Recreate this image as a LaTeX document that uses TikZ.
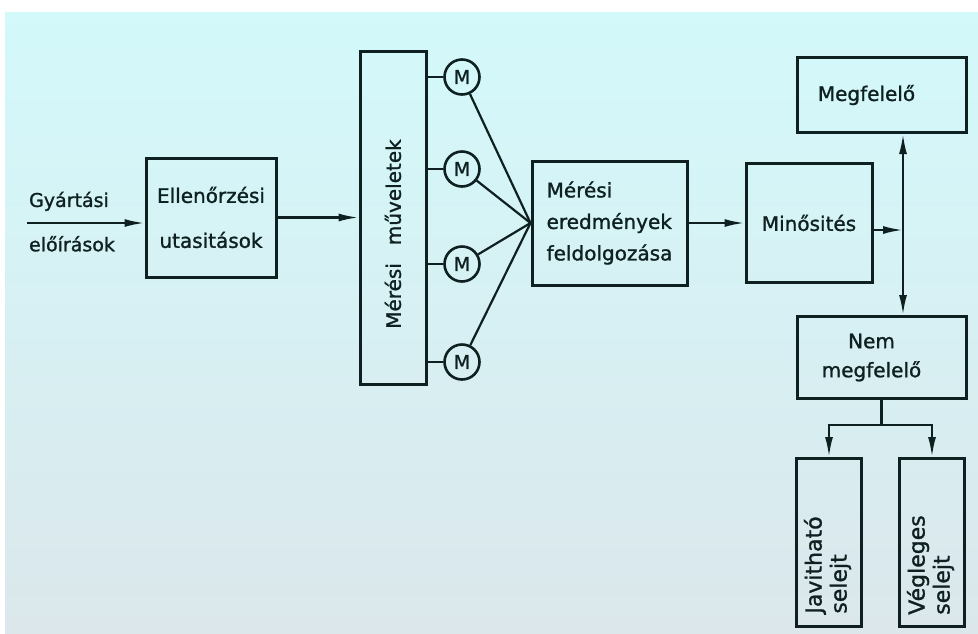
\documentclass[tikz,border=0pt]{standalone}
\usepackage{fontspec}
\setmainfont{DejaVu Sans}[FakeBold=1.2]
\usepackage{tikz}
\usetikzlibrary{arrows.meta, positioning}
\definecolor{Ink}{HTML}{0E2020}
\definecolor{PaperTop}{HTML}{D3F9FB}
\definecolor{PaperBot}{HTML}{DBE7EB}

\begin{document}
\begin{tikzpicture}[
    x=1pt, y=-1pt,
    box/.style={rectangle, draw=Ink, line width=3pt, inner sep=0pt, align=center, text=Ink, font=\fontsize{20}{30}\selectfont},
    meter/.style={circle, draw=Ink, line width=2.6pt, minimum size=35pt, inner sep=0pt, text=Ink, font=\fontsize{19}{19}\selectfont},
    arrow/.style={-{Latex[length=20pt, width=8pt]}, line width=2.2pt, Ink},
    wire/.style={line width=2.2pt, Ink},
    note/.style={inner sep=0pt, text=Ink, font=\fontsize{19}{19}\selectfont},
]

% Paper
\useasboundingbox (0,0) rectangle (978,633);
\fill[white] (0,0) rectangle (978,633);
\shade[top color=PaperTop, bottom color=PaperBot] (5,12) rectangle (978,633);

% Main chain
\node[box, minimum width=130pt, minimum height=119pt, font=\fontsize{20}{45}\selectfont] (ell) at (211,217.5) {Ellenőrzési\\utasitások};
\node[box, minimum width=66pt, minimum height=333pt, right=81pt of ell] (mm) {\rotatebox{90}{Mérési\hspace{0.9em}műveletek\hspace*{33pt}}};
\node[box, minimum width=155pt, minimum height=124pt, align=left, font=\fontsize{20}{31.5}\selectfont, right=103pt of mm, yshift=-5.5pt] (fel) {Mérési\\eredmények\\feldolgozása};
\node[box, minimum width=126pt, minimum height=119pt, right=56pt of fel] (min) {Minősités};

% Results
\node[box, minimum width=169pt, minimum height=75pt, above=28pt of min, xshift=72.5pt] (meg) {Megfelelő\hspace*{30pt}};
\node[box, minimum width=169pt, minimum height=82pt, font=\fontsize{20}{29}\selectfont, below=31pt of min, xshift=72.5pt] (nem) {Nem\hspace*{20pt}\\megfelelő\hspace*{20pt}};
\node[box, minimum width=65pt, minimum height=168pt, font=\fontsize{22}{25}\selectfont, below=57pt of nem, xshift=-52.5pt] (jav) {\rotatebox{90}{\begin{tabular}{@{}l@{}}Javitható\\selejt\end{tabular}\hspace*{45pt}}};
\node[box, minimum width=65pt, minimum height=168pt, font=\fontsize{22}{25}\selectfont, right=35pt of jav] (veg) {\rotatebox{90}{\begin{tabular}{@{}l@{}}Végleges\\selejt\end{tabular}\hspace*{45pt}}};

% Meters
\node[meter] (m1) at (462,77) {M};
\node[meter] (m2) at (462,169) {M};
\node[meter] (m3) at (462,264) {M};
\node[meter] (m4) at (462,362) {M};

% Input
\coordinate (in) at (27,223);
\draw[arrow] (in) -- (in -| ell.west)
    node[note, pos=0, above right=11pt and 1pt] {Gyártási}
    node[note, pos=0, below right=12pt and 1pt] {előírások};

% Arrows
\draw[arrow] (ell.east) -- (ell.east -| mm.west);
\draw[wire] (mm.east |- m1) -- (m1);
\draw[wire] (mm.east |- m2) -- (m2);
\draw[wire] (mm.east |- m3) -- (m3);
\draw[wire] (mm.east |- m4) -- (m4);
\draw[wire] (m1) -- (fel.west);
\draw[wire] (m2) -- (fel.west);
\draw[wire] (m3) -- (fel.west);
\draw[wire] (m4) -- (fel.west);
\draw[arrow] (fel) -- (min);

% Sorting
\coordinate (j) at (903,230);
\draw[arrow] (min.east |- j) -- (j);
\draw[arrow] (j) -- (j |- meg.south);
\draw[arrow] (j) -- (j |- nem.north);
\draw[wire] (nem.south) -- ++(0,25) coordinate (split);
\draw[arrow] (split) -| (jav.north);
\draw[arrow] (split) -| (veg.north);

\end{tikzpicture}
\end{document}
